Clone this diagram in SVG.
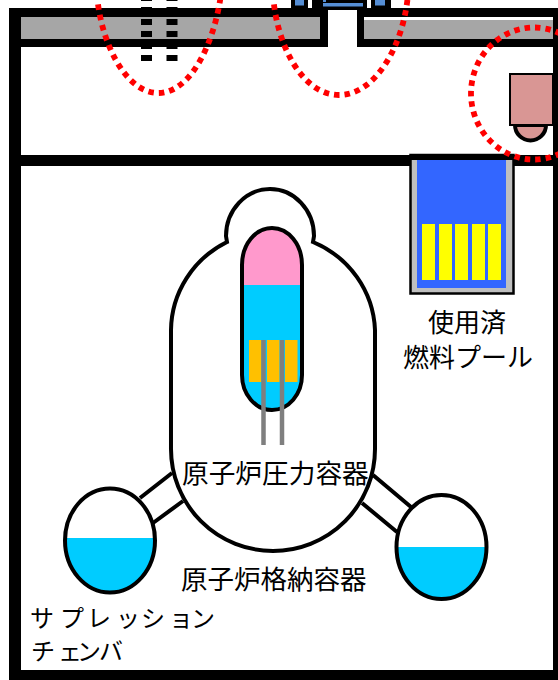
<svg xmlns="http://www.w3.org/2000/svg" width="558" height="680" viewBox="0 0 558 680">
<style>
text{font-family:"Noto Sans CJK JP","Noto Sans",sans-serif;font-size:26px;fill:#000}
.o{fill:none;stroke:#000;stroke-width:4}
.red{fill:none;stroke:#f00;stroke-width:5.800;stroke-dasharray:5.500 5}
.w{fill:#0cf}
.y{fill:#ff0}
.f{fill:#ffc000}
.g{fill:#a6a6a6}
.b{fill:#000}
</style>
<defs>
<clipPath id="cl"><ellipse cx="110" cy="540.500" rx="45" ry="52"/></clipPath>
<clipPath id="cr"><ellipse cx="441.500" cy="547" rx="45" ry="52"/></clipPath>
</defs>
<rect width="558" height="680" fill="#fff"/>
<g id="building">
<rect class="b" x="9" y="8" width="549" height="9"/>
<rect class="b" x="9" y="8" width="12" height="672"/>
<rect class="b" x="9" y="670" width="549" height="10"/>
<rect class="b" x="553" y="8" width="5" height="672"/>
<rect class="b" x="9" y="39" width="549" height="8"/>
<rect class="b" x="9" y="155" width="549" height="11"/>
<rect class="g" x="21" y="17" width="299" height="22"/>
<rect class="g" x="364" y="20" width="189" height="19"/>
<rect class="b" x="320" y="17" width="8" height="30"/>
<rect class="b" x="357" y="17" width="7" height="30"/>
<rect x="328" y="10" width="29" height="37" fill="#fff"/>
</g>
<g id="top-equipment">
<rect class="b" x="291" y="0" width="17" height="10"/>
<rect x="295" y="0" width="9" height="5.500" fill="#558ed5"/>
<rect class="b" x="312" y="0" width="55" height="10"/>
<rect x="323" y="3" width="40" height="3.500" fill="#558ed5"/>
<rect x="323" y="0" width="3" height="2" fill="#558ed5"/>
<rect class="b" x="371" y="0" width="20" height="10"/>
<rect x="375" y="0" width="10" height="5.500" fill="#558ed5"/>
</g>
<g id="shaft-dashes" fill="none" stroke="#000" stroke-width="11" stroke-dasharray="6 6">
<path d="M146.500-5V61"/>
<path d="M172-5V61"/>
</g>
<g id="room">
<path d="M515 125A15.500 15.500 0 0 0 546 125Z" fill="#d99694" stroke="#000" stroke-width="4"/>
<rect x="510" y="74" width="43" height="51" fill="#d99694" stroke="#000" stroke-width="2"/>
</g>
<g id="pool">
<rect x="410.500" y="155" width="103" height="138.500" fill="#bfbfbf" stroke="#000" stroke-width="2.500"/>
<rect class="b" x="409" y="155" width="106" height="5"/>
<rect x="417" y="160" width="89" height="128" fill="#36f"/>
<rect class="y" x="422" y="224" width="13" height="56"/>
<rect class="y" x="439" y="224" width="13" height="56"/>
<rect class="y" x="455" y="224" width="13" height="56"/>
<rect class="y" x="472" y="224" width="13" height="56"/>
<rect class="y" x="488" y="224" width="13" height="56"/>
<text x="428" y="332">使用済</text>
<text x="403" y="367">燃料プール</text>
</g>
<g id="containment">
<path class="o" d="M171 330A102 100 0 0 1 227 242L226 236A44 47 0 0 1 314 236L313 242A102 100 0 0 1 375 330V449A102 102 0 0 1 171 449Z"/>
<text x="182" y="483" style="font-size:26.700px">原子炉圧力容器</text>
<text x="181" y="589" style="font-size:26.500px">原子炉格納容器</text>
</g>
<g id="rpv">
<path d="M242 265A30 37 0 0 1 302 265V285H242Z" fill="#f9c"/>
<path class="w" d="M242 285H302V375A30 35 0 0 1 242 375Z"/>
<rect class="f" x="249" y="340" width="12.500" height="42"/>
<rect class="f" x="267" y="340" width="12.500" height="42"/>
<rect class="f" x="285" y="340" width="12.500" height="42"/>
<path class="o" d="M242 265A30 37 0 0 1 302 265V375A30 35 0 0 1 242 375Z"/>
<path d="M263.500 340V445M282 340V445" fill="none" stroke="#7f7f7f" stroke-width="4.500"/>
</g>
<g id="suppression-left">
<rect class="w" x="60" y="538" width="100" height="60" clip-path="url(#cl)"/>
<ellipse class="o" cx="110" cy="540.500" rx="45" ry="52"/>
<text x="30 60 87 116 141 169 191" y="627" style="font-size:24px">サプレッション</text>
<text x="31 58 77 99" y="660" style="font-size:24px">チェンバ</text>
</g>
<g id="suppression-right">
<rect class="w" x="390" y="547" width="100" height="60" clip-path="url(#cr)"/>
<ellipse class="o" cx="441.500" cy="547" rx="45" ry="52"/>
</g>
<g id="connectors">
<path class="o" d="M140 498L172 473M153 523L183 501M373 475L411 507M362 503L397 532"/>
</g>
<g id="radiation">
<path class="red" d="M97-6C100 40 125 93 158 93C192 93 215 40 221-6"/>
<path class="red" d="M273-6C276 44 302 95 339 95C376 95 404 44 408-6"/>
<ellipse class="red" cx="534" cy="93.500" rx="63" ry="66"/>
</g>
</svg>
